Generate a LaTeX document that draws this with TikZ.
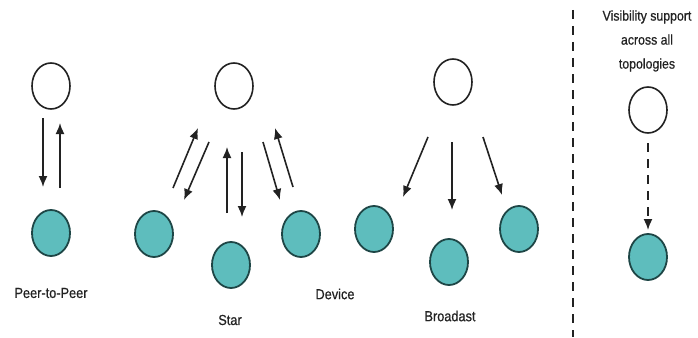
\documentclass[tikz,border=0pt]{standalone}
\usepackage{fontspec}
\setmainfont{Liberation Sans}[FakeStretch=0.88,FakeBold=0.6]
\usetikzlibrary{shapes.geometric,arrows.meta}
\definecolor{tealfill}{RGB}{94,189,189}
\definecolor{tealline}{RGB}{30,70,70}
\definecolor{inkgray}{RGB}{34,34,34}

\begin{document}
\begin{tikzpicture}[x=1pt,y=-1pt,
      hub/.style={ellipse,draw=inkgray,line width=1.6pt,fill=white,minimum width=38pt,minimum height=46pt,inner sep=0pt},
      dev/.style={ellipse,draw=tealline,line width=1.8pt,fill=tealfill,minimum width=38pt,minimum height=46pt,inner sep=0pt},
      lbl/.style={font=\fontsize{14.5}{15}\selectfont,text=inkgray,inner sep=0pt},
      flow/.style={-{Latex[length=11pt,width=9pt]},draw=inkgray,line width=1.6pt}]
    \useasboundingbox (0,0) rectangle (698,337);

      % peer-to-peer
      \node[hub] (p2ptop) at (51,86) {};
      \node[dev] (p2pbot) at (51,233) {};
      \draw[flow] ([shift={(-8,32)}]p2ptop.center) -- ([shift={(-8,-46)}]p2pbot.center);
      \draw[flow] ([shift={(9,-45)}]p2pbot.center) -- ([shift={(9,37)}]p2ptop.center);
      \node[lbl] (p2plabel) at (51,293) {Peer-to-Peer};

      % star
      \node[hub] (startop) at (234,86) {};
      \node[dev] (starleft) at (154,234) {};
      \node[dev] (starmid) at (231,265) {};
      \node[dev] (starright) at (301,234) {};
      \draw[flow] ([shift={(19,-46)}]starleft.center) -- ([shift={(-36,42)}]startop.center);
      \draw[flow] ([shift={(-25,56)}]startop.center) -- ([shift={(30,-34)}]starleft.center);
      \draw[flow] ([shift={(-4,-52)}]starmid.center) -- ([shift={(-7,61)}]startop.center);
      \draw[flow] ([shift={(8,66)}]startop.center) -- ([shift={(11,-48)}]starmid.center);
      \draw[flow] ([shift={(29,56)}]startop.center) -- ([shift={(-21,-34)}]starright.center);
      \draw[flow] ([shift={(-8,-47)}]starright.center) -- ([shift={(41,42)}]startop.center);
      \node[lbl] (starlabel) at (230,320) {Star};
      \node[lbl] (devlabel) at (335,294) {Device};

      % broadcast
      \node[hub] (bcasttop) at (453,82) {};
      \node[dev] (bcastleft) at (374,229) {};
      \node[dev] (bcastmid) at (449,262) {};
      \node[dev] (bcastright) at (519,229) {};
      \foreach \n/\sx/\sy/\ex/\ey in {left/-25/55/29/-32,mid/-1/60/3/-52,right/30/55/-17/-34} {
        \draw[flow] ([shift={(\sx,\sy)}]bcasttop.center) -- ([shift={(\ex,\ey)}]bcast\n.center);
      }
      \node[lbl] (bcastlabel) at (450,316) {Broadast};

      % divider and visibility
      \coordinate (divtop) at (573,10);
      \coordinate (divbot) at (573,337);
      \draw[inkgray,line width=1.5pt,dash pattern=on 9pt off 7pt] (divtop) -- (divbot);

      \node[hub] (vistop) at (648,110) {};
      \node[dev] (visbot) at (648,257) {};
      \draw[flow,dash pattern=on 9pt off 7pt] ([shift={(0,33)}]vistop.center) -- ([shift={(0,-27)}]visbot.center);
      \node[lbl,align=center,font=\fontsize{14}{24}\selectfont] (vislabel) at (647,41) {Visibility support\\across all\\topologies};

\end{tikzpicture}
\end{document}
